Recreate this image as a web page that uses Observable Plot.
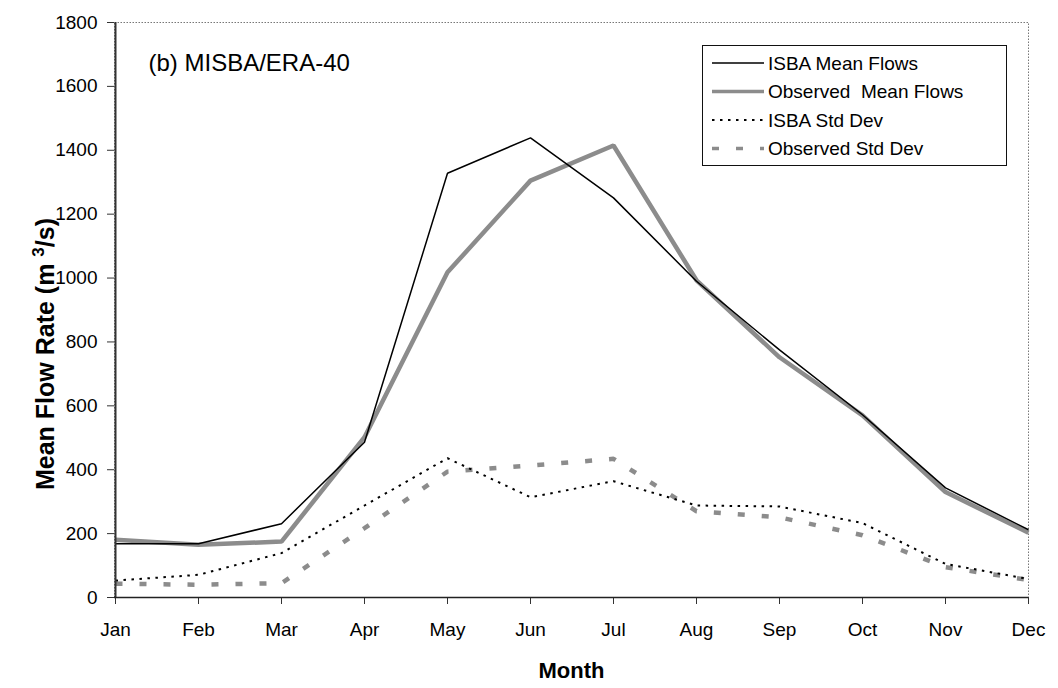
<!DOCTYPE html>
<html>
<head>
<meta charset="utf-8">
<script src="https://cdn.jsdelivr.net/npm/d3@7"></script>
<script src="https://cdn.jsdelivr.net/npm/@observablehq/plot@0.6"></script>
<style>
  html, body { margin: 0; padding: 0; background: #fff; }
  #wrap { position: relative; width: 1058px; height: 688px; }
  #wrap svg { display: block; }
  #legend { position: absolute; left: 0; top: 0; pointer-events: none; }
</style>
</head>
<body>
<div id="wrap"></div>
<script>
// Monthly flow climatology (m^3/s)
const months = ["Jan", "Feb", "Mar", "Apr", "May", "Jun", "Jul", "Aug", "Sep", "Oct", "Nov", "Dec"];
const isbaMean = [168, 168, 231, 486, 1328, 1439, 1251, 990, 775, 572, 343, 212];
const obsMean  = [181, 165, 175, 502, 1018, 1305, 1415, 993, 752, 570, 330, 203];
const isbaStd  = [53, 71, 139, 288, 436, 314, 364, 288, 285, 233, 105, 58];
const obsStd   = [43, 40, 45, 217, 394, 413, 434, 270, 251, 195, 95, 55];
const yTicks = [0, 200, 400, 600, 800, 1000, 1200, 1400, 1600, 1800];

const seriesNames = ["ISBA Mean Flows", "Observed  Mean Flows", "ISBA Std Dev", "Observed Std Dev"];
const seriesValues = [isbaMean, obsMean, isbaStd, obsStd];

const titleText = "(b) MISBA/ERA-40";
const yLabelParts = ["Mean Flow Rate (m ", "3", "/s)"];
const yLabel = yLabelParts.join("");
const xLabel = "Month";

// Line styles per series
const styles = {
  "ISBA Mean Flows":      {stroke: "#000", strokeWidth: 1.5, strokeDasharray: null},
  "Observed  Mean Flows": {stroke: "#8c8c8c", strokeWidth: 4.5, strokeDasharray: null},
  "ISBA Std Dev":         {stroke: "#000", strokeWidth: 2, strokeDasharray: "2.5,5.5"},
  "Observed Std Dev":     {stroke: "#8c8c8c", strokeWidth: 4.5, strokeDasharray: "7,17"}
};

const rows = seriesNames.flatMap((name, i) =>
  months.map((m, j) => ({series: name, month: m, value: seriesValues[i][j]}))
);

// observed series go underneath the model series
const drawOrder = ["Observed Std Dev", "ISBA Std Dev", "Observed  Mean Flows", "ISBA Mean Flows"];
const lineMarks = drawOrder.map(name =>
  Plot.line(rows.filter(r => r.series === name), {
    x: "month", y: "value",
    stroke: styles[name].stroke,
    strokeWidth: styles[name].strokeWidth,
    strokeDasharray: styles[name].strokeDasharray,
    strokeLinejoin: "miter",
    strokeLinecap: "butt"
  })
);

const font = "'Liberation Sans', Arial, Helvetica, sans-serif";

const chart = Plot.plot({
  width: 1058,
  height: 688,
  marginLeft: 114,
  marginRight: 30,
  marginTop: 22,
  marginBottom: 91,
  style: {fontFamily: font, background: "#fff", color: "#000", overflow: "visible"},
  x: {type: "point", domain: months, padding: 0},
  y: {domain: [0, 1800]},
  marks: [
    Plot.frame({stroke: "#777", strokeDasharray: "1.5,1.5", strokeWidth: 1}),
    Plot.axisY({ticks: yTicks, tickFormat: d => String(d), tickSize: 7, tickPadding: 10,
      fontSize: 19, label: null, stroke: "#333"}),
    Plot.axisX({tickSize: 7, tickPadding: 18, fontSize: 19, label: null, stroke: "#333"}),
    ...lineMarks,
    Plot.ruleX([months[0]], {stroke: "#333", strokeWidth: 2}),
    Plot.ruleY([0], {stroke: "#222", strokeWidth: 1.5}),
    Plot.text([titleText], {text: d => d, frameAnchor: "top-left", dx: 34, dy: 41,
      textAnchor: "start", lineAnchor: "middle", fontSize: 24, fill: "#000"}),
    Plot.text([yLabel], {text: d => d, frameAnchor: "left", dx: -69, dy: 44, rotate: -90,
      textAnchor: "middle", lineAnchor: "middle", fontSize: 25, fontWeight: "bold", fill: "#000",
      className: "ylabel"}),
    Plot.text([xLabel], {text: d => d, frameAnchor: "bottom", dy: 73,
      textAnchor: "middle", lineAnchor: "middle", fontSize: 22, fontWeight: "bold", fill: "#000"})
  ]
});

// Set the unit exponent as a raised superscript
d3.select(chart).selectAll("g.ylabel text").each(function() {
  const t = d3.select(this);
  t.text(null);
  t.append("tspan").text(yLabelParts[0]).style("white-space", "pre");
  t.append("tspan").text(yLabelParts[1]).attr("font-size", "0.68em").attr("dy", "-0.55em");
  t.append("tspan").text(yLabelParts[2]).attr("dy", "0.374em");
});

const wrap = document.getElementById("wrap");
wrap.appendChild(chart);

// Legend box in the upper right of the plot area
const leg = d3.select(wrap).append("svg")
  .attr("id", "legend")
  .attr("width", 1058)
  .attr("height", 688)
  .style("font-family", font);

leg.append("rect")
  .attr("x", 702.5).attr("y", 45.5)
  .attr("width", 304).attr("height", 120)
  .attr("fill", "#fff").attr("stroke", "#111").attr("stroke-width", 1);

const entry = leg.selectAll("g.entry").data(seriesNames).join("g")
  .attr("class", "entry")
  .attr("transform", (d, i) => `translate(0,${63 + i * 28.5})`);

entry.append("line")
  .attr("x1", 712).attr("x2", 764).attr("y1", 0).attr("y2", 0)
  .attr("stroke", d => styles[d].stroke)
  .attr("stroke-width", d => Math.min(styles[d].strokeWidth, 3.5))
  .attr("stroke-dasharray", d => styles[d].strokeDasharray);

entry.append("text")
  .attr("x", 768).attr("y", 0).attr("dy", "0.35em")
  .attr("font-size", 19)
  .style("white-space", "pre")
  .text(d => d);
</script>
</body>
</html>
